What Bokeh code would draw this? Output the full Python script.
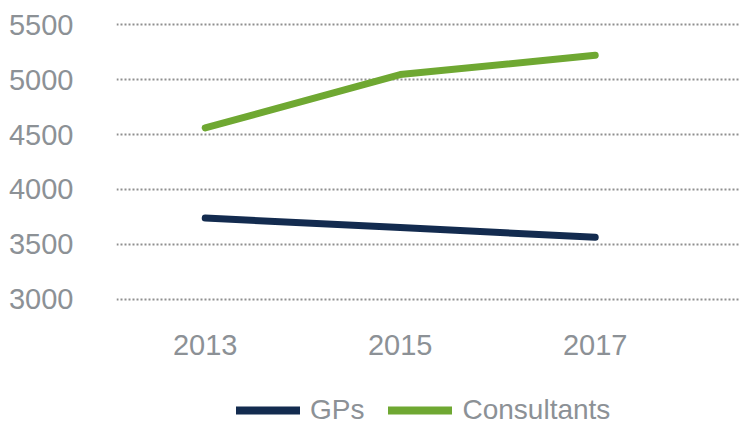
from bokeh.plotting import figure
from bokeh.models import Range1d, FixedTicker, Legend, LegendItem
from bokeh.layouts import column
from bokeh.embed import file_html
from bokeh.resources import INLINE

years = [2013, 2015, 2017]
gps = [3740, 3655, 3565]
consultants = [4560, 5045, 5220]
y_ticks = [3000, 3500, 4000, 4500, 5000, 5500]
series_names = ["GPs", "Consultants"]

FONT = "Liberation Sans"
GRAY = "#8c9196"
NAVY = "#132b4f"
GREEN = "#6fa832"

p = figure(width=740, height=386, output_backend="svg", toolbar_location=None,
           x_range=Range1d(2012.09, 2018.49), y_range=Range1d(2963, 5537),
           min_border_left=116, min_border_right=0, min_border_top=20,
           min_border_bottom=83)
p.outline_line_color = None
p.background_fill_color = "white"
p.border_fill_color = "white"

p.line(years, gps, line_color=NAVY, line_width=7, line_cap="round", line_join="round")
p.line(years, consultants, line_color=GREEN, line_width=7, line_cap="round", line_join="round")

for ax in (p.xaxis[0], p.yaxis[0]):
    ax.axis_line_color = None
    ax.major_tick_line_color = None
    ax.minor_tick_line_color = None
    ax.major_label_text_font = FONT
    ax.major_label_text_font_size = "29px"
    ax.major_label_text_color = GRAY

p.xaxis.ticker = FixedTicker(ticks=years)
p.yaxis.ticker = FixedTicker(ticks=y_ticks)
p.yaxis.major_label_standoff = 37
p.xaxis.major_label_standoff = 25

p.xgrid.grid_line_color = None
p.ygrid.grid_line_color = "#8f8f8f"
p.ygrid.grid_line_dash = "2 2"
p.ygrid.grid_line_width = 2

# legend strip (series drawn out of view; only the legend shows)
lg = figure(width=740, height=40, output_backend="svg", toolbar_location=None,
            x_range=Range1d(0, 1), y_range=Range1d(0, 1),
            min_border_left=116, min_border_right=0, min_border_top=0,
            min_border_bottom=0)
lg.axis.visible = False
lg.grid.visible = False
lg.outline_line_color = None
lg.background_fill_color = "white"
lg.border_fill_color = "white"
l1 = lg.line(years, gps, line_color=NAVY, line_width=8, line_cap="round")
l2 = lg.line(years, consultants, line_color=GREEN, line_width=8, line_cap="round")

legend = Legend(items=[LegendItem(label=series_names[0], renderers=[l1]),
                       LegendItem(label=series_names[1], renderers=[l2])],
                orientation="horizontal", location=(120, 0),
                label_text_font=FONT, label_text_font_size="28px",
                label_text_color=GRAY, glyph_width=64, glyph_height=28,
                label_standoff=10, spacing=24, border_line_color=None,
                background_fill_alpha=0, padding=0, margin=0)
lg.add_layout(legend, "center")

layout = column(p, lg, spacing=0)
open("out.html", "w").write(file_html(layout, INLINE))
